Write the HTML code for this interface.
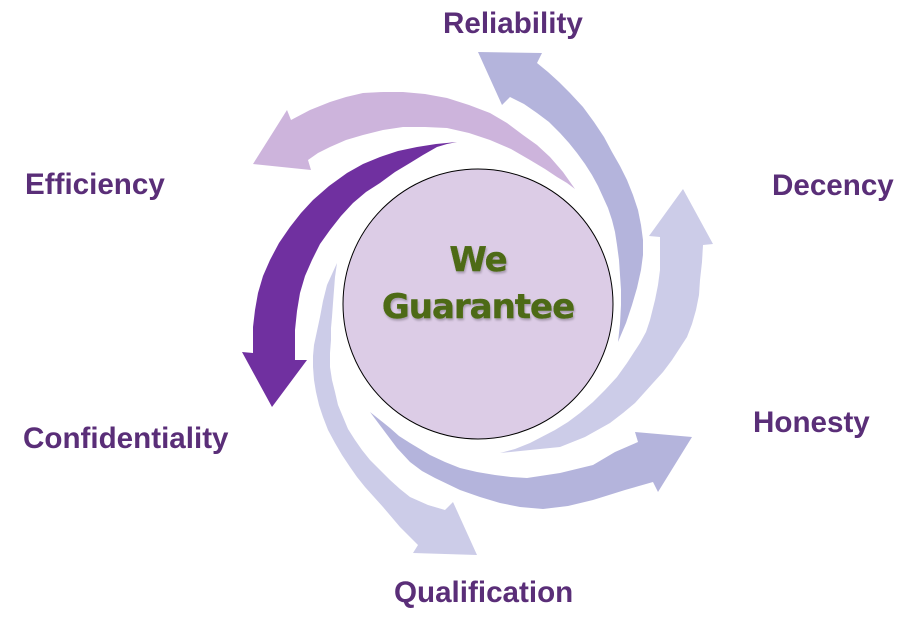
<!DOCTYPE html>
<html>
<head>
<meta charset="utf-8">
<style>
  html,body{margin:0;padding:0;background:#fff;}
  svg{display:block;}
  .lbl{font-family:"Liberation Sans",Arial,sans-serif;font-weight:bold;font-size:29.6px;fill:#5a2e78;}
  .ctr{font-family:"DejaVu Sans","Liberation Sans",sans-serif;font-weight:bold;font-size:34px;fill:#4d6b14;letter-spacing:-1px;stroke:#4d6b14;stroke-width:0.4px;}
</style>
</head>
<body>
<svg width="908" height="626" viewBox="0 0 908 626" xmlns="http://www.w3.org/2000/svg">
  <defs>
    <filter id="sh" x="-10%" y="-10%" width="120%" height="130%">
      <feGaussianBlur in="SourceAlpha" stdDeviation="1"/>
      <feOffset dx="1" dy="2" result="b"/>
      <feComponentTransfer><feFuncA type="linear" slope="0.25"/></feComponentTransfer>
      <feMerge><feMergeNode/><feMergeNode in="SourceGraphic"/></feMerge>
    </filter>
  </defs>

  <!-- Efficiency arrow (light purple) -->
  <polygon fill="#cdb4dc" points="575,189 563,172 550,157 537,145 523,135 507,123 490,113 469,105 447,98 425,94 403,92 383,92 363,93 346,97 330,102 310,110 291,120 287,110 253,164 311,170 308,160 318,153 330,147 346,140 363,135 383,130 403,127 425,127 447,128 469,133 490,140 511,149 530,160 545,169 557,177 567,183"/>

  <!-- Reliability arrow -->
  <polygon fill="#b4b4dc" points="618,342 626,323 632,305 637,288 641,270 643,255 643,240 641,225 638,210 633,195 627,180 620,166 612,152 604,137 594,122 583,107 570,93 559,82 548,72 537,63 542,53 478,52 502,105 510,97 524,104 537,113 549,122 560,133 569,143 577,153 585,164 592,175 598,186 603,197 608,208 612,220 615,232 617,245 619,260 620,275 621,290 621,305 620,324"/>

  <!-- Dark purple arrow -->
  <polygon fill="#7030a0" points="457,142 436,144 417,147 398,151 380,157 363,164 347,173 329,186 313,200 301,213 290,227 279,243 270,260 263,276 258,293 255,310 253,327 253,340 253,353 242,352 272,407 307,360 295,360 295,345 295,330 297,311 300,293 305,276 312,260 320,244 330,230 341,216 353,203 366,192 380,183 395,172 410,163 423,155 437,147 447,144"/>

  <!-- Decency arrow -->
  <polygon fill="#cccce8" points="500,453 530,450 560,447 585,437 610,423 623,413 635,403 653,383 663,372 672,360 687,337 692,324 696,310 699,295 700,280 702,262 703,245 713,244 683,189 649,236 660,237 660,254 660,270 658,285 655,300 650,320 646,332 640,343 627,363 617,377 605,390 593,402 580,413 568,422 555,430 530,443 515,449"/>

  <!-- Honesty arrow -->
  <polygon fill="#b4b4dc" points="370,412 385,432 397,448 410,462 422,471 435,478 460,490 480,497 500,503 520,507 543,509 568,506 593,500 625,490 653,482 658,492 692,437 635,432 638,442 615,452 593,465 560,473 527,478 511,477 495,475 477,472 460,468 445,462 430,455 420,449 410,443 399,436 390,428 380,420"/>

  <!-- Qualification arrow -->
  <polygon fill="#cccce8" points="337,263 332,274 327,285 323,301 320,317 317,331 314,345 313,356 313,367 314,380 316,392 319,405 323,417 328,430 335,443 342,455 350,467 357,477 365,487 383,507 400,527 418,545 413,553 477,555 453,502 445,510 428,505 410,497 400,489 390,480 380,470 370,460 362,450 355,440 348,429 343,417 338,405 335,392 332,380 330,367 330,353 331,340 331,328 332,317 333,303 334,290 335,277"/>

  <!-- Center circle -->
  <circle cx="478" cy="304" r="135" fill="#dccce6" stroke="#000" stroke-width="1"/>
  <g filter="url(#sh)">
    <text class="ctr" x="478" y="271" text-anchor="middle">We</text>
    <text class="ctr" x="478" y="318" text-anchor="middle">Guarantee</text>
  </g>

  <!-- Labels -->
  <text class="lbl" x="443" y="33">Reliability</text>
  <text class="lbl" x="772" y="195">Decency</text>
  <text class="lbl" x="753" y="432">Honesty</text>
  <text class="lbl" x="394" y="602">Qualification</text>
  <text class="lbl" x="23" y="448">Confidentiality</text>
  <text class="lbl" x="25" y="194">Efficiency</text>
</svg>
</body>
</html>
